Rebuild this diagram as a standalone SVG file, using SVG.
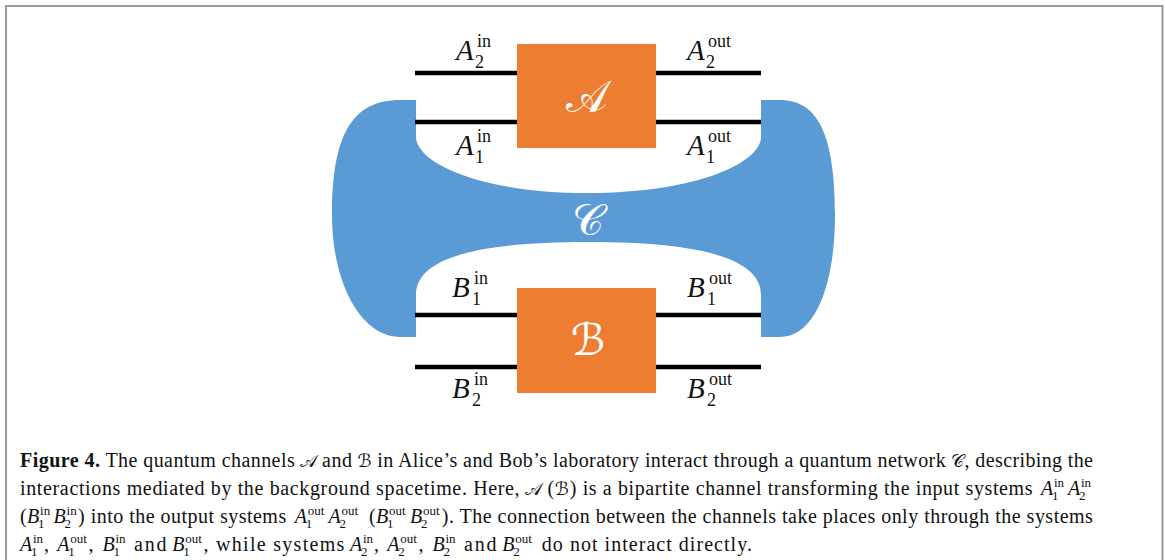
<svg xmlns="http://www.w3.org/2000/svg" width="1165" height="560" viewBox="0 0 1165 560">
<style>
.lab{font-family:"Liberation Serif","Times New Roman",serif;fill:#111;font-size:18px}
.li{font-style:italic;font-size:29px}
.ls{font-size:18px}
.cal{font-family:"DejaVu Serif","DejaVu Sans",serif;font-size:44px;fill:#fff;text-anchor:middle}
.wire{stroke:#000;stroke-width:4.5;fill:none}
.box{fill:#ED7D31}
.cap{font-family:"Liberation Serif","Times New Roman",serif;font-size:20px;fill:#111}
.b{font-weight:bold}
.i{font-style:italic}
.s{font-size:13px;font-style:normal}
.cc{font-family:"DejaVu Serif","DejaVu Sans",serif;font-size:18px;fill:#111}
</style>
<rect x="6" y="6" width="1156.5" height="570" fill="#fff" stroke="#9a9a9a" stroke-width="2"/>
<g id="network-C">
<path fill="#5B9BD5" d="M416,100 L416,137 C416,162 478,193 588,193 C698,193 761,162 761,137 L761,100 L780,100 C818,100 835,135 835,215 C835,285 815,337 780,337 L761,337 L761,295 C761,257 696,242 588,242 C480,242 416,257 416,295 L416,337 L400,337 C362,337 332,285 332,215 C332,135 352,100 400,100 Z"/>
<text class="cal" x="588" y="235">𝒞</text>
</g>
<g id="connectors">
<line class="wire" x1="415" y1="73" x2="761" y2="73"/>
<line class="wire" x1="415" y1="122" x2="761" y2="122"/>
<line class="wire" x1="415" y1="315" x2="761" y2="315"/>
<line class="wire" x1="415" y1="367" x2="761" y2="367"/>
</g>
<g id="channel-A">
<rect class="box" x="517" y="44" width="139" height="104"/>
<text class="cal" x="587" y="112">𝒜</text>
</g>
<g id="channel-B">
<rect class="box" x="517" y="288" width="139" height="105"/>
<text class="cal" x="588" y="355">ℬ</text>
</g>
<g id="labels">
<text class="lab"><tspan class="li" x="456" y="60">A</tspan><tspan class="ls" x="477" y="47">in</tspan><tspan class="ls" x="475" y="68">2</tspan></text>
<text class="lab"><tspan class="li" x="687" y="60">A</tspan><tspan class="ls" x="708" y="47">out</tspan><tspan class="ls" x="706" y="68">2</tspan></text>
<text class="lab"><tspan class="li" x="456" y="155">A</tspan><tspan class="ls" x="477" y="142">in</tspan><tspan class="ls" x="475" y="163">1</tspan></text>
<text class="lab"><tspan class="li" x="687" y="155">A</tspan><tspan class="ls" x="708" y="142">out</tspan><tspan class="ls" x="706" y="163">1</tspan></text>
<text class="lab"><tspan class="li" x="452" y="297">B</tspan><tspan class="ls" x="474" y="284">in</tspan><tspan class="ls" x="472" y="305">1</tspan></text>
<text class="lab"><tspan class="li" x="687" y="297">B</tspan><tspan class="ls" x="709" y="284">out</tspan><tspan class="ls" x="707" y="305">1</tspan></text>
<text class="lab"><tspan class="li" x="452" y="398">B</tspan><tspan class="ls" x="474" y="385">in</tspan><tspan class="ls" x="472" y="406">2</tspan></text>
<text class="lab"><tspan class="li" x="687" y="398">B</tspan><tspan class="ls" x="709" y="385">out</tspan><tspan class="ls" x="707" y="406">2</tspan></text>
</g>
<g id="caption">
<text class="cap b" x="20" y="467" textLength="80">Figure 4.</text>
<text class="cap" x="105.4" y="467" textLength="189.3">The quantum channels</text>
<text class="cc" x="300" y="467">𝒜</text>
<text class="cap" x="321.9" y="467" textLength="30.2">and</text>
<text class="cc" x="357.4" y="467">ℬ</text>
<text class="cap" x="377.2" y="467" textLength="568.5">in Alice’s and Bob’s laboratory interact through a quantum network</text>
<text class="cc" x="951" y="467">𝒞</text>
<text class="cap" x="964.6" y="467" textLength="128.4">, describing the</text>

<text class="cap" x="20" y="495" textLength="499.6">interactions mediated by the background spacetime. Here,</text>
<text class="cc" x="525.2" y="495">𝒜</text>
<text class="cap" x="547.6" y="495">(</text>
<text class="cc" x="554.8" y="495">ℬ</text>
<text class="cap" x="569.8" y="495" textLength="462.7">) is a bipartite channel transforming the input systems</text>
<text class="cap"><tspan class="i" x="1041" y="495">A</tspan><tspan class="s" x="1054" y="487">in</tspan><tspan class="s" x="1052" y="500">1</tspan></text>
<text class="cap"><tspan class="i" x="1068" y="495">A</tspan><tspan class="s" x="1081" y="487">in</tspan><tspan class="s" x="1079" y="500">2</tspan></text>

<text class="cap" x="20" y="523">(</text>
<text class="cap"><tspan class="i" x="27.1" y="523">B</tspan><tspan class="s" x="40.1" y="515">in</tspan><tspan class="s" x="38.1" y="528">1</tspan></text>
<text class="cap"><tspan class="i" x="53.6" y="523">B</tspan><tspan class="s" x="66.6" y="515">in</tspan><tspan class="s" x="64.6" y="528">2</tspan></text>
<text class="cap" x="78.1" y="523" textLength="208.1">) into the output systems</text>
<text class="cap"><tspan class="i" x="294.7" y="523">A</tspan><tspan class="s" x="307.7" y="515">out</tspan><tspan class="s" x="305.7" y="528">1</tspan></text>
<text class="cap"><tspan class="i" x="328.6" y="523">A</tspan><tspan class="s" x="341.6" y="515">out</tspan><tspan class="s" x="339.6" y="528">2</tspan></text>
<text class="cap" x="368.9" y="523">(</text>
<text class="cap"><tspan class="i" x="376" y="523">B</tspan><tspan class="s" x="389" y="515">out</tspan><tspan class="s" x="387" y="528">1</tspan></text>
<text class="cap"><tspan class="i" x="410" y="523">B</tspan><tspan class="s" x="423" y="515">out</tspan><tspan class="s" x="421" y="528">2</tspan></text>
<text class="cap" x="441.8" y="523" textLength="651.1">). The connection between the channels take places only through the systems</text>

<text class="cap"><tspan class="i" x="20" y="551">A</tspan><tspan class="s" x="33" y="543">in</tspan><tspan class="s" x="31" y="556">1</tspan></text>
<text class="cap" x="44" y="551">,</text>
<text class="cap"><tspan class="i" x="57.3" y="551">A</tspan><tspan class="s" x="70.3" y="543">out</tspan><tspan class="s" x="68.3" y="556">1</tspan></text>
<text class="cap" x="88.5" y="551">,</text>
<text class="cap"><tspan class="i" x="102.4" y="551">B</tspan><tspan class="s" x="115.4" y="543">in</tspan><tspan class="s" x="113.4" y="556">1</tspan></text>
<text class="cap" x="134" y="551" textLength="32.5">and</text>
<text class="cap"><tspan class="i" x="172.2" y="551">B</tspan><tspan class="s" x="185.2" y="543">out</tspan><tspan class="s" x="183.2" y="556">1</tspan></text>
<text class="cap" x="203.5" y="551" textLength="140.8">, while systems</text>
<text class="cap"><tspan class="i" x="350" y="551">A</tspan><tspan class="s" x="363" y="543">in</tspan><tspan class="s" x="361" y="556">2</tspan></text>
<text class="cap" x="374" y="551">,</text>
<text class="cap"><tspan class="i" x="387.3" y="551">A</tspan><tspan class="s" x="400.3" y="543">out</tspan><tspan class="s" x="398.3" y="556">2</tspan></text>
<text class="cap" x="418.5" y="551">,</text>
<text class="cap"><tspan class="i" x="432.5" y="551">B</tspan><tspan class="s" x="445.5" y="543">in</tspan><tspan class="s" x="443.5" y="556">2</tspan></text>
<text class="cap" x="464.1" y="551" textLength="32.5">and</text>
<text class="cap"><tspan class="i" x="502.3" y="551">B</tspan><tspan class="s" x="515.3" y="543">out</tspan><tspan class="s" x="513.3" y="556">2</tspan></text>
<text class="cap" x="541.8" y="551" textLength="210.1">do not interact directly.</text>
</g>
</svg>
